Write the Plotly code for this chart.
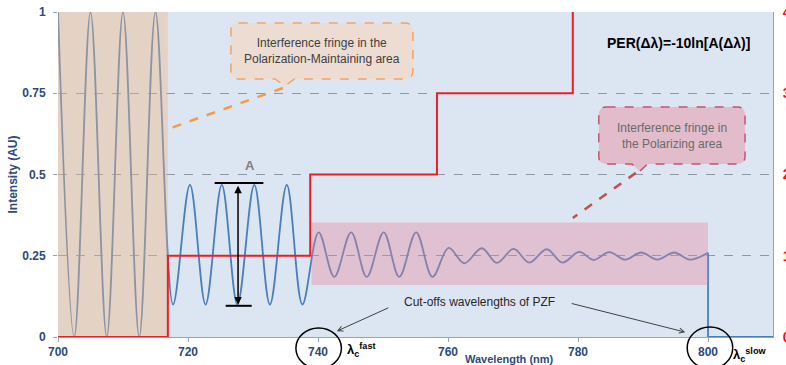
import plotly.graph_objects as go

# ---------------- data ----------------
# interference fringe (peaks / troughs)
fringe_x = [700, 702.5, 705, 707.5, 710, 712.5, 715, 717.7, 720.3, 722.7, 725.2, 727.6,
            730.2, 732.6, 735.2, 737.6, 740.1, 742.5, 745.1, 747.5, 750.1, 752.5, 755.1,
            757.6, 760.1, 762.5, 765.2, 767.5, 770.1, 772.5, 775.2, 777.6, 780.2, 782.4,
            784.8, 787.3, 789.7, 792.2, 794.8, 797.2, 800]
fringe_y = [1.0, 0.0, 1.0, 0.0, 1.0, 0.0, 1.0, 0.10, 0.468, 0.10, 0.468, 0.10,
            0.468, 0.10, 0.468, 0.10, 0.322, 0.185, 0.322, 0.185, 0.322, 0.185, 0.322,
            0.185, 0.274, 0.227, 0.273, 0.228, 0.271, 0.229, 0.270, 0.229, 0.262, 0.237,
            0.261, 0.238, 0.260, 0.238, 0.260, 0.238, 0.259]
# cut-off of the slow axis
cut_x = [800, 800, 810]
cut_y = [0.259, 0.0, 0.0]
# red step (right axis)
step_x = [700, 716.9, 738.8, 758.3, 779.2, 810]
step_y = [0, 1, 2, 3, 5, 5]
# regions
pm_region_x = [700, 716.9]
pm_region_y = [0, 1]
pz_region_x = [739, 800]
pz_region_y = [0.16, 0.352]
# ticks
x_ticks = [700, 720, 740, 760, 780, 800]
y_ticks = [0, 0.25, 0.5, 0.75, 1]
y_tick_text = ["0", "0.25", "0.5", "0.75", "1"]
y2_ticks = [0, 1, 2, 3, 4]

NAVY = "#2c4a7c"
BLUE = "#4a7ebb"
FONT = "Arial, Liberation Sans, sans-serif"

fig = go.Figure()
fig.add_trace(go.Scatter(x=fringe_x, y=fringe_y, mode="lines",
                         line=dict(color=BLUE, width=1.8, shape="spline", smoothing=1),
                         hoverinfo="skip", showlegend=False))
fig.add_trace(go.Scatter(x=cut_x, y=cut_y, mode="lines",
                         line=dict(color=BLUE, width=1.8),
                         hoverinfo="skip", showlegend=False))
# translucent region overlays (on top of the fringe)
fig.add_trace(go.Scatter(
    x=[pm_region_x[0], pm_region_x[1], pm_region_x[1], pm_region_x[0], pm_region_x[0]],
    y=[pm_region_y[0], pm_region_y[0], pm_region_y[1], pm_region_y[1], pm_region_y[0]],
    mode="lines", fill="toself", fillcolor="rgba(240,180,130,0.40)",
    line=dict(width=0), hoverinfo="skip", showlegend=False))
fig.add_trace(go.Scatter(
    x=[pz_region_x[0], pz_region_x[1], pz_region_x[1], pz_region_x[0], pz_region_x[0]],
    y=[pz_region_y[0], pz_region_y[0], pz_region_y[1], pz_region_y[1], pz_region_y[0]],
    mode="lines", fill="toself", fillcolor="rgba(228,135,155,0.38)",
    line=dict(width=0), hoverinfo="skip", showlegend=False))
fig.add_trace(go.Scatter(x=step_x, y=step_y, yaxis="y2", mode="lines",
                         line=dict(color="#ee1c24", width=2, shape="hv"),
                         hoverinfo="skip", showlegend=False))


def callout_path(x0, x1, y0, y1, rx, ry, pc, half, tx, ty):
    return (f"M {x0+rx},{y1} L {x1-rx},{y1} Q {x1},{y1} {x1},{y1-ry} "
            f"L {x1},{y0+ry} Q {x1},{y0} {x1-rx},{y0} "
            f"L {pc+half},{y0} L {tx},{ty} L {pc-half},{y0} "
            f"L {x0+rx},{y0} Q {x0},{y0} {x0},{y0+ry} "
            f"L {x0},{y1-ry} Q {x0},{y1} {x0+rx},{y1} Z")


shapes = [
    # callout 1
    dict(type="path", xref="x", yref="y",
         path=callout_path(726.6, 754.6, 0.794, 0.966, 1.2, 0.025, 734.9, 1.5, 734.9, 0.772),
         fillcolor="#ecdcd2", line=dict(color="#f0a465", width=1.5, dash="dash")),
    dict(type="line", xref="x", yref="y", x0=734.6, y0=0.766, x1=716.5, y1=0.637,
         line=dict(color="#f59a45", width=2.5, dash="dash")),
    # callout 2
    dict(type="path", xref="x", yref="y",
         path=callout_path(783.2, 805.7, 0.532, 0.708, 1.2, 0.025, 789.5, 1.2, 789.5, 0.510),
         fillcolor="#e2bccb", line=dict(color="#c4546e", width=1.5, dash="dash")),
    dict(type="line", xref="x", yref="y", x0=788.9, y0=0.505, x1=779.2, y1=0.366,
         line=dict(color="#c0504d", width=2.5, dash="dash")),
    # amplitude bars
    dict(type="line", xref="x", yref="y", x0=724.1, y0=0.474, x1=731.6, y1=0.474,
         line=dict(color="black", width=2)),
    dict(type="line", xref="x", yref="y", x0=725.8, y0=0.096, x1=729.8, y1=0.096,
         line=dict(color="black", width=2)),
    # circles around cut-off ticks
    dict(type="circle", xref="x", yref="paper", x0=736.6, x1=743.6, y0=-0.097, y1=0.028,
         line=dict(color="black", width=1.5)),
    dict(type="circle", xref="x", yref="paper", x0=796.8, x1=803.8, y0=-0.098, y1=0.031,
         line=dict(color="black", width=1.5)),
]

annotations = [
    dict(x=740.6, y=0.88, xref="x", yref="y", showarrow=False,
         text="Interference fringe in the<br>Polarization-Maintaining area",
         font=dict(family=FONT, size=12, color="#404040")),
    dict(x=794.5, y=0.618, xref="x", yref="y", showarrow=False,
         text="Interference fringe in<br>the Polarizing area",
         font=dict(family=FONT, size=12, color="#6a6a6a")),
    dict(x=795.4, y=0.905, xref="x", yref="y", showarrow=False,
         text="<b>PER(Δλ)=-10ln[A(Δλ)]</b>",
         font=dict(family=FONT, size=14, color="black")),
    dict(x=729.6, y=0.529, xref="x", yref="y", showarrow=False, text="<b>A</b>",
         font=dict(family=FONT, size=13, color="#808080")),
    dict(x=764.8, y=0.108, xref="x", yref="y", showarrow=False,
         text="Cut-offs wavelengths of PZF",
         font=dict(family=FONT, size=12, color="#262626")),
    # double arrow A
    dict(x=727.7, y=0.100, ax=727.7, ay=0.470, xref="x", yref="y", axref="x", ayref="y",
         showarrow=True, arrowside="end+start", arrowhead=2, startarrowhead=2,
         arrowsize=1, startarrowsize=1, arrowwidth=1.5, arrowcolor="black", text=""),
    # cut-off arrows
    dict(x=742.9, y=0.018, xref="x", yref="y", ax=53, ay=-24, showarrow=True,
         arrowhead=5, arrowsize=1, arrowwidth=1, arrowcolor="#404040", text=""),
    dict(x=796.5, y=0.015, xref="x", yref="y", ax=-115, ay=-29, showarrow=True,
         arrowhead=5, arrowsize=1, arrowwidth=1, arrowcolor="#404040", text=""),
    # lambda labels
    dict(x=746.6, y=-0.04, xref="x", yref="paper", showarrow=False,
         xanchor="center", yanchor="middle",
         text="<b>λ<sub>c</sub><sup>fast</sup></b>",
         font=dict(family=FONT, size=13, color="black")),
    dict(x=806.4, y=-0.055, xref="x", yref="paper", showarrow=False,
         xanchor="center", yanchor="middle",
         text="<b>λ<sub>c</sub><sup>slow</sup></b>",
         font=dict(family=FONT, size=13, color="black")),
    # axis titles
    dict(x=0.632, y=0, xref="paper", yref="paper", yshift=-22, showarrow=False,
         xanchor="center", yanchor="middle",
         text="<b>Wavelength (nm)</b>", font=dict(family=FONT, size=11, color=NAVY)),
    dict(x=0, y=0.5, xref="paper", yref="paper", xshift=-46, showarrow=False,
         xanchor="center", yanchor="middle",
         textangle=-90, text="<b>Intensity (AU)</b>",
         font=dict(family=FONT, size=12, color=NAVY)),
]

fig.update_layout(
    width=786, height=365,
    margin=dict(l=58, r=13, t=12, b=28, autoexpand=False),
    paper_bgcolor="white", plot_bgcolor="#dce6f2",
    font=dict(family=FONT),
    showlegend=False,
    xaxis=dict(range=[700, 810], tickvals=x_ticks, showgrid=False, zeroline=False,
               automargin=False,
               showline=True, linecolor="#9aa3b0", linewidth=1,
               ticks="outside", ticklen=4, tickcolor="#9aa3b0",
               tickfont=dict(family=FONT, size=12, color=NAVY, weight="bold")),
    yaxis=dict(range=[0, 1], tickvals=y_ticks, ticktext=y_tick_text,
               automargin=False, ticklabelstandoff=5,
               showgrid=True, gridcolor="#8e97a8", griddash="dash", gridwidth=1,
               zeroline=False, showline=False,
               ticks="outside", ticklen=4, tickcolor="#9aa3b0",
               tickfont=dict(family=FONT, size=12, color=NAVY, weight="bold")),
    yaxis2=dict(range=[0, 4], tickvals=y2_ticks, overlaying="y", side="right",
                automargin=False, ticklabelstandoff=6,
                showgrid=False, zeroline=False, showline=True, linecolor="#9aa3b0",
                ticks="", tickfont=dict(family=FONT, size=14, color="#e8141c", weight="bold")),
    shapes=shapes,
    annotations=annotations,
)

fig.write_html("out.html", config={"displayModeBar": False},
               post_script="document.body.style.margin='0';document.body.style.overflow='hidden';")
